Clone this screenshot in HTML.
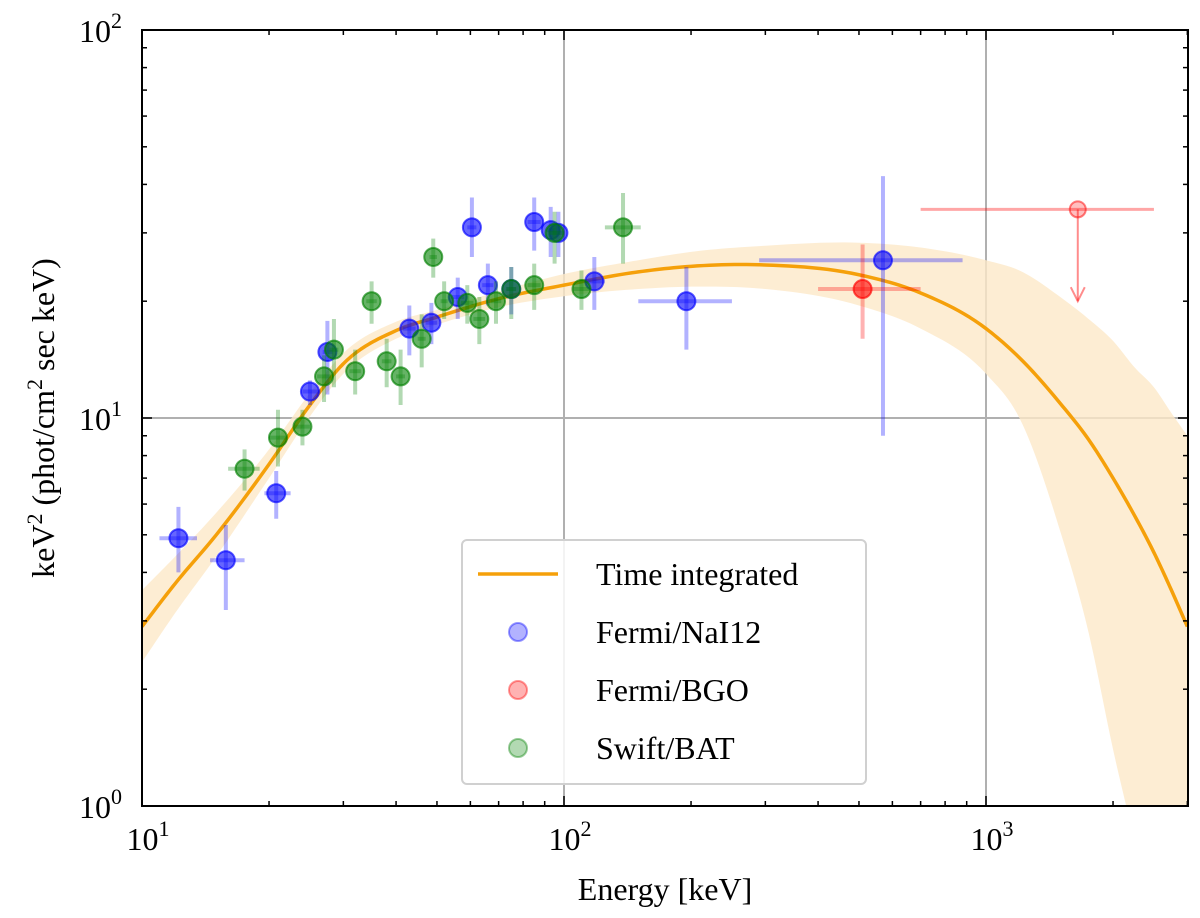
<!DOCTYPE html>
<html><head><meta charset="utf-8"><style>
html,body{margin:0;padding:0;background:#fff;overflow:hidden;width:1200px;height:918px;}
svg{display:block;font-family:"Liberation Serif",serif;}
</style></head><body>
<svg id="chart" width="1200" height="918"></svg>
<script>
// ---- data ----
const curveE = [10, 12, 15, 20, 25, 30, 40, 50, 70, 100, 150, 200, 300, 500, 700, 1000, 1200, 1500, 1750, 2000, 2250, 2500, 2750, 3000];
const curveV = [2.9, 3.75, 5.0, 7.6, 10.8, 13.8, 16.8, 18.2, 20.3, 22.0, 23.8, 24.6, 24.8, 23.4, 21.0, 17.0, 14.3, 10.9, 8.8, 7.0, 5.6, 4.5, 3.6, 2.9];
const bandLo = [2.35, 3.15, 4.4, 7.0, 10.1, 13.0, 16.0, 17.4, 19.3, 20.6, 21.5, 21.8, 21.5, 19.5, 17.0, 13.0, 10.0, 5.1, 2.8, 1.4, 0.8, 0.45, 0.25, 0.15];
const bandHi = [3.6, 4.4, 5.7, 8.3, 11.6, 14.7, 17.7, 19.0, 21.2, 23.5, 25.5, 26.8, 27.8, 28.3, 27.5, 25.5, 24.0, 20.5, 18.0, 15.8, 13.5, 12.0, 10.3, 9.0];
const naiE = [12.2, 15.8, 20.8, 25, 27.5, 43, 48.5, 56, 60.5, 66, 75, 85, 93, 97, 118, 195, 570];
const naiV = [4.9, 4.3, 6.4, 11.7, 14.8, 17.0, 17.6, 20.5, 31, 22, 21.5, 32, 30.5, 30, 22.5, 20, 25.5];
const naiXlo = [11, 14.5, 19.5, 24, 26.8, 41.5, 47, 54, 59, 64, 73, 82, 91, 94, 112, 150, 290];
const naiXhi = [13.5, 17.5, 22.5, 26.5, 28.3, 44.5, 50, 58, 62, 68, 77, 88, 95, 100, 125, 250, 880];
const naiYlo = [4.0, 3.2, 5.5, 10.8, 11.5, 14.5, 15.5, 18, 26, 19.5, 18.5, 27, 26, 26, 19, 15, 9];
const naiYhi = [5.9, 5.3, 7.3, 12.5, 17.8, 19.5, 19.8, 23, 37, 25, 24.5, 37, 35, 34, 26, 24.5, 42];
const bgoE = [510];
const bgoV = [21.5];
const bgoXlo = [400]; const bgoXhi = [700];
const bgoYlo = [16]; const bgoYhi = [28];
const ulE = [1650]; const ulV = [34.5]; const ulXlo = [700]; const ulXhi = [2500]; const ulArrow = [20];
const batE = [17.5, 21, 24, 27, 28.5, 32, 35, 38, 41, 46, 49, 52, 59, 63, 69, 75, 85, 95, 110, 138];
const batV = [7.4, 8.9, 9.5, 12.8, 15, 13.2, 20, 14, 12.8, 16, 26, 20, 19.8, 18, 20, 21.5, 22, 30, 21.5, 31];
const batXlo = [16, 20, 23, 26, 27.8, 31, 34, 37, 40, 45, 48, 51, 57, 61, 67, 73, 82, 92, 105, 125];
const batXhi = [19, 22, 25, 28, 29.2, 33, 36, 39, 42, 47, 50, 53, 61, 65, 71, 77, 88, 98, 115, 152];
const batYlo = [6.5, 7.5, 8.5, 11, 12, 11.5, 17.5, 12, 10.8, 13.5, 23, 18, 17.5, 15.5, 17.5, 18, 19, 25, 19, 25];
const batYhi = [8.3, 10.5, 10.5, 14.5, 18, 15, 22.5, 16, 15, 18.5, 29, 22.5, 22, 20.5, 22.5, 24.5, 25, 34, 24, 38];
const xTicks = [1, 2, 3];
const yTicks = [0, 1, 2];

// ---- axes ----
const X0 = 142, X1 = 1188, Y0 = 806, Y1 = 30;
const xs = e => X0 + 422 * (Math.log10(e) - 1);
const ys = v => Y0 - 388 * Math.log10(v);
const svg = document.getElementById('chart');
const NS = 'http://www.w3.org/2000/svg';
function mk(tag, attrs, parent) {
  const el = document.createElementNS(NS, tag);
  for (const k in attrs) el.setAttribute(k, attrs[k]);
  (parent || svg).appendChild(el);
  return el;
}
const defs = mk('defs', {});
const cp = mk('clipPath', {id: 'clip'}, defs);
mk('rect', {x: X0, y: Y1, width: X1 - X0, height: Y0 - Y1}, cp);
const plot = mk('g', {'clip-path': 'url(#clip)'});



xTicks.forEach(p => {
  const g = mk('line', {x1: xs(Math.pow(10, p)), x2: xs(Math.pow(10, p)), y1: Y1, y2: Y0, stroke: '#b0b0b0', 'stroke-width': 2}, plot);
  
  
});
yTicks.forEach(p => {
  const g = mk('line', {x1: X0, x2: X1, y1: ys(Math.pow(10, p)), y2: ys(Math.pow(10, p)), stroke: '#b0b0b0', 'stroke-width': 2}, plot);
  
  
});

// cubic Hermite interpolation in pixel space (non-uniform spacing aware)
function hermitePts(px) {
  const n = px.length, m = [];
  for (let i = 0; i < n; i++) {
    if (i === 0) m.push((px[1][1] - px[0][1]) / (px[1][0] - px[0][0]));
    else if (i === n - 1) m.push((px[n - 1][1] - px[n - 2][1]) / (px[n - 1][0] - px[n - 2][0]));
    else {
      const h0 = px[i][0] - px[i - 1][0], h1 = px[i + 1][0] - px[i][0];
      const d0 = (px[i][1] - px[i - 1][1]) / h0, d1 = (px[i + 1][1] - px[i][1]) / h1;
      m.push((d0 * h1 + d1 * h0) / (h0 + h1));
    }
  }
  const out = [];
  for (let i = 0; i < n - 1; i++) {
    const h = px[i + 1][0] - px[i][0];
    for (let k = 0; k < 12; k++) {
      const t = k / 12, t2 = t * t, t3 = t2 * t;
      const y = (2 * t3 - 3 * t2 + 1) * px[i][1] + (t3 - 2 * t2 + t) * h * m[i] + (-2 * t3 + 3 * t2) * px[i + 1][1] + (t3 - t2) * h * m[i + 1];
      out.push([px[i][0] + t * h, y]);
    }
  }
  out.push(px[n - 1]);
  return out;
}
const toD = pts => pts.map((p, i) => (i ? 'L' : 'M') + p[0].toFixed(2) + ',' + p[1].toFixed(2)).join('');
const hiPts = hermitePts(curveE.map((e, i) => [xs(e), ys(bandHi[i])]));
const loPts = hermitePts(curveE.map((e, i) => [xs(e), ys(bandLo[i])])).reverse();
const band = mk('path', {d: toD(hiPts.concat(loPts)) + 'Z', fill: '#fde9c8', 'fill-opacity': 0.8, stroke: 'none'}, plot);



const curve = mk('path', {d: toD(hermitePts(curveE.map((e, i) => [xs(e), ys(curveV[i])]))), fill: 'none', stroke: '#f5a00a', 'stroke-width': 3.5, 'stroke-linejoin': 'round'}, plot);



function series(E, V, Xlo, Xhi, Ylo, Yhi, col, name) {
  E.forEach((e, i) => {
    const g = mk('g', {}, plot);
    
    
    mk('line', {x1: xs(Xlo[i]), x2: xs(Xhi[i]), y1: ys(V[i]), y2: ys(V[i]), stroke: col, 'stroke-opacity': 0.3, 'stroke-width': 4}, g);
    mk('line', {x1: xs(e), x2: xs(e), y1: ys(Ylo[i]), y2: ys(Yhi[i]), stroke: col, 'stroke-opacity': 0.3, 'stroke-width': 4}, g);
    mk('circle', {cx: xs(e), cy: ys(V[i]), r: 9, fill: col, 'fill-opacity': 0.6, stroke: col, 'stroke-opacity': 0.65, 'stroke-width': 2}, g);
  });
}
series(naiE, naiV, naiXlo, naiXhi, naiYlo, naiYhi, '#0000ff', 'nai12');
series(batE, batV, batXlo, batXhi, batYlo, batYhi, '#008000', 'bat');
series(bgoE, bgoV, bgoXlo, bgoXhi, bgoYlo, bgoYhi, '#ff0000', 'bgo');
ulE.forEach((e, i) => {
  const g = mk('g', {}, plot);
  
  
  mk('line', {x1: xs(ulXlo[i]), x2: xs(ulXhi[i]), y1: ys(ulV[i]), y2: ys(ulV[i]), stroke: '#ff0000', 'stroke-opacity': 0.35, 'stroke-width': 3}, g);
  mk('line', {x1: xs(e), x2: xs(e), y1: ys(ulV[i]), y2: ys(ulArrow[i]), stroke: '#ff0000', 'stroke-opacity': 0.45, 'stroke-width': 2}, g);
  const ay = ys(ulArrow[i]);
  mk('path', {d: `M${xs(e) - 7},${ay - 14}L${xs(e)},${ay}L${xs(e) + 7},${ay - 14}`, fill: 'none', stroke: '#ff0000', 'stroke-opacity': 0.45, 'stroke-width': 2}, g);
  mk('circle', {cx: xs(e), cy: ys(ulV[i]), r: 8, fill: '#ff0000', 'fill-opacity': 0.25, stroke: '#ff0000', 'stroke-opacity': 0.5, 'stroke-width': 2}, g);
});

const frame = mk('rect', {x: X0, y: Y1, width: X1 - X0, height: Y0 - Y1, fill: 'none', stroke: '#000', 'stroke-width': 2});


const tg = mk('g', {stroke: '#000', 'stroke-width': 1.5});


for (let p = 1; p <= 3; p++) for (let m = 1; m <= 9; m++) {
  const e = m * Math.pow(10, p); const x = xs(e);
  if (x > X1) continue;
  const L = m === 1 ? 10 : 5;
  mk('line', {x1: x, x2: x, y1: Y0, y2: Y0 - L}, tg);
  mk('line', {x1: x, x2: x, y1: Y1, y2: Y1 + L}, tg);
}
for (let p = 0; p <= 2; p++) for (let m = 1; m <= 9; m++) {
  const v = m * Math.pow(10, p); if (v > 100) continue; const y = ys(v);
  const L = m === 1 ? 10 : 5;
  mk('line', {x1: X0, x2: X0 + L, y1: y, y2: y}, tg);
  mk('line', {x1: X1, x2: X1 - L, y1: y, y2: y}, tg);
}
xTicks.forEach(p => {
  const t = mk('text', {x: xs(Math.pow(10, p)) + 6, y: 850, 'text-anchor': 'middle', 'font-size': 32});
  
  
  t.innerHTML = '10<tspan dy="-14" font-size="22">' + p + '</tspan>';
});
yTicks.forEach(p => {
  const t = mk('text', {x: 122, y: ys(Math.pow(10, p)) + 12, 'text-anchor': 'end', 'font-size': 32});
  
  
  t.innerHTML = '10<tspan dy="-14" font-size="22">' + p + '</tspan>';
});
const xl = mk('text', {x: 665, y: 900, 'text-anchor': 'middle', 'font-size': 32});


xl.textContent = 'Energy [keV]';
const yl = mk('text', {x: 0, y: 0, 'text-anchor': 'middle', 'font-size': 32, transform: 'translate(54,418) rotate(-90)'});


yl.innerHTML = 'keV<tspan dy="-12" font-size="22">2</tspan><tspan dy="12"> (phot/cm</tspan><tspan dy="-12" font-size="22">2</tspan><tspan dy="12"> sec keV)</tspan>';

const lg = mk('g', {});


mk('rect', {x: 462, y: 540, width: 404, height: 244, rx: 5, fill: '#fff', 'fill-opacity': 0.85, stroke: '#d0d0d0', 'stroke-width': 2}, lg);
const entries = [['line', '#f5a00a', 'Time integrated', 'legend-entry-time-integrated'], ['dot', '#0000ff', 'Fermi/NaI12', 'legend-entry-nai12'], ['dot', '#ff0000', 'Fermi/BGO', 'legend-entry-bgo'], ['dot', '#008000', 'Swift/BAT', 'legend-entry-bat']];
entries.forEach((en, i) => {
  const y = 574 + i * 58;
  const g = mk('g', {}, lg);
  
  
  if (en[0] === 'line') mk('line', {x1: 478, x2: 558, y1: y, y2: y, stroke: en[1], 'stroke-width': 3.5}, g);
  else mk('circle', {cx: 518, cy: y, r: 9, fill: en[1], 'fill-opacity': 0.3, stroke: en[1], 'stroke-opacity': 0.4, 'stroke-width': 2}, g);
  const t = mk('text', {x: 596, y: y + 11, 'font-size': 32}, g);
  t.textContent = en[2];
});
</script>
</body></html>
